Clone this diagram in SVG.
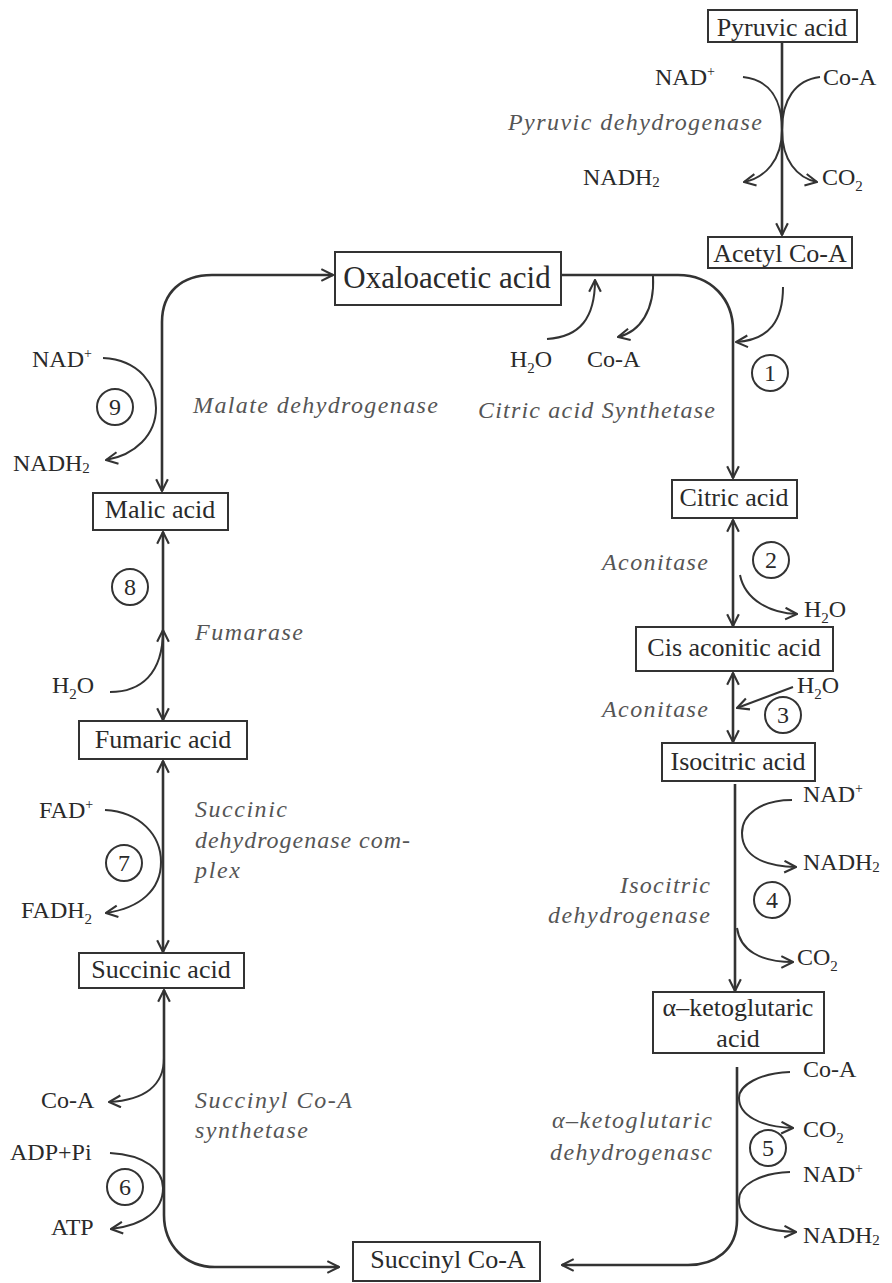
<svg xmlns="http://www.w3.org/2000/svg" width="892" height="1283" viewBox="0 0 892 1283">
<defs>
<marker id="arr" markerUnits="userSpaceOnUse" markerWidth="14" markerHeight="14" viewBox="0 0 12 12" refX="11" refY="6" orient="auto-start-reverse">
<path d="M1,1 L11,6 L1,11" fill="none" stroke="#333" stroke-width="1.8"/>
</marker>
</defs>
<style>
.box{fill:#fff;stroke:#333;stroke-width:2}
.bt{font-family:"Liberation Serif","Times New Roman",serif;font-size:26px;fill:#2a2a2a;text-anchor:middle}
.t{font-family:"Liberation Serif","Times New Roman",serif;font-size:24px;fill:#2a2a2a}
.it{font-family:"Liberation Serif","Times New Roman",serif;font-size:24px;font-style:italic;fill:#555}
.num{font-family:"Liberation Serif","Times New Roman",serif;font-size:24px;fill:#2a2a2a;text-anchor:middle}
.c{fill:none;stroke:#333;stroke-width:2}
.main{fill:none;stroke:#333;stroke-width:2.6}
.sub{font-size:15px}
.sup{font-size:14px}
</style>
<rect width="892" height="1283" fill="#fff"/>

<g id="connectors">
<path class="main" d="M782,42 V235" stroke-width="3" marker-end="url(#arr)"/>
<path class="c" d="M743,77 C770,80 782,100 782,130 C782,160 765,178 744,182" marker-end="url(#arr)"/>
<path class="c" d="M820,77 C795,80 782,100 782,130 C782,160 797,178 817,182" marker-end="url(#arr)"/>
<path class="main" d="M561,275 H678 C712,275 733,300 733,330 V478" marker-end="url(#arr)"/>
<path class="c" d="M547,339 C580,337 595,318 595,280" marker-end="url(#arr)"/>
<path class="c" d="M653,276 C655,310 640,332 618,337" marker-end="url(#arr)"/>
<path class="c" d="M783,287 C783,320 770,340 736,342" marker-end="url(#arr)"/>
<path class="main" d="M162,491 V322 C162,292 182,275 212,275 H333" marker-start="url(#arr)" marker-end="url(#arr)"/>
<path class="c" d="M103,358 C140,360 156,385 156,408 C156,435 135,455 106,460" marker-end="url(#arr)"/>
<path class="main" d="M163,532 V720" marker-start="url(#arr)" marker-end="url(#arr)"/>
<path class="c" d="M110,692 C140,692 163,675 163,630" marker-end="url(#arr)"/>
<path class="main" d="M163,761 V952" marker-start="url(#arr)" marker-end="url(#arr)"/>
<path class="c" d="M105,810 C140,812 161,835 161,862 C161,890 140,908 106,913" marker-end="url(#arr)"/>
<path class="main" d="M164,990 V1215 C164,1245 185,1267 215,1267 H339" marker-start="url(#arr)" marker-end="url(#arr)"/>
<path class="c" d="M164,1058 C164,1085 145,1100 109,1102" marker-end="url(#arr)"/>
<path class="c" d="M110,1153 C145,1155 163,1170 163,1188 C163,1210 145,1225 111,1229" marker-end="url(#arr)"/>
<path class="main" d="M733,520 V626" marker-start="url(#arr)" marker-end="url(#arr)"/>
<path class="c" d="M740,575 C745,600 770,613 797,614" marker-end="url(#arr)"/>
<path class="main" d="M733,673 V742" marker-start="url(#arr)" marker-end="url(#arr)"/>
<path class="c" d="M793,687 L737,708" marker-end="url(#arr)"/>
<path class="main" d="M735,784 V991" stroke-width="3" marker-end="url(#arr)"/>
<path class="c" d="M792,800 C760,800 742,815 742,833 C742,855 762,866 796,867" marker-end="url(#arr)"/>
<path class="c" d="M737,928 C740,950 760,962 793,962" marker-end="url(#arr)"/>
<path class="main" d="M737,1067 V1220 C737,1250 715,1265 688,1265 H562" stroke-width="3" marker-end="url(#arr)"/>
<path class="c" d="M790,1072 C760,1073 739,1085 739,1098 C739,1115 760,1127 793,1128" marker-end="url(#arr)"/>
<path class="c" d="M790,1172 C760,1173 739,1185 739,1200 C739,1220 760,1231 796,1232" marker-end="url(#arr)"/>
</g>

<g id="pyruvic"><rect class="box" x="708" y="10" width="149" height="32"/><text class="bt" x="782" y="36">Pyruvic acid</text></g>
<g id="acetyl"><rect class="box" x="708" y="237" width="144" height="31"/><text class="bt" x="780" y="262">Acetyl Co-A</text></g>
<g id="oxaloacetic"><rect class="box" x="335" y="252" width="226" height="53"/><text class="bt" x="447" y="288" style="font-size:31px">Oxaloacetic acid</text></g>
<g id="citric"><rect class="box" x="672" y="480" width="125" height="38"/><text class="bt" x="734" y="506">Citric acid</text></g>
<g id="cisaconitic"><rect class="box" x="636" y="627" width="197" height="44"/><text class="bt" x="734" y="656">Cis aconitic acid</text></g>
<g id="isocitric"><rect class="box" x="662" y="743" width="153" height="38"/><text class="bt" x="738" y="770">Isocitric acid</text></g>
<g id="ketoglutaric"><rect class="box" x="653" y="992" width="171" height="61"/><text class="bt" x="738" y="1016">α–ketoglutaric</text><text class="bt" x="738" y="1047">acid</text></g>
<g id="succinylcoa"><rect class="box" x="353" y="1242" width="187" height="39"/><text class="bt" x="448" y="1268">Succinyl Co-A</text></g>
<g id="succinic"><rect class="box" x="79" y="953" width="165" height="35"/><text class="bt" x="161" y="978">Succinic acid</text></g>
<g id="fumaric"><rect class="box" x="79" y="721" width="168" height="38"/><text class="bt" x="163" y="748">Fumaric acid</text></g>
<g id="malic"><rect class="box" x="93" y="493" width="135" height="37"/><text class="bt" x="160" y="518">Malic acid</text></g>

<g id="labels">
<text class="t" x="655" y="85">NAD<tspan class="sup" dy="-9">+</tspan></text>
<text class="t" x="823" y="85">Co-A</text>
<text class="it" x="508" y="130" textLength="254" lengthAdjust="spacing">Pyruvic dehydrogenase</text>
<text class="t" x="583" y="185">NADH<tspan class="sub" dy="2">2</tspan></text>
<text class="t" x="822" y="185">CO<tspan class="sub" dy="6">2</tspan></text>

<text class="t" x="510" y="367">H<tspan class="sub" dy="6">2</tspan><tspan dy="-6">O</tspan></text>
<text class="t" x="587" y="367">Co-A</text>
<text class="it" x="478" y="418" textLength="237" lengthAdjust="spacing">Citric acid Synthetase</text>

<text class="t" x="32" y="367">NAD<tspan class="sup" dy="-9">+</tspan></text>
<text class="t" x="13" y="471">NADH<tspan class="sub" dy="2">2</tspan></text>
<text class="it" x="193" y="413" textLength="245" lengthAdjust="spacing">Malate dehydrogenase</text>

<text class="t" x="52" y="693">H<tspan class="sub" dy="6">2</tspan><tspan dy="-6">O</tspan></text>
<text class="it" x="195" y="640" textLength="108" lengthAdjust="spacing">Fumarase</text>

<text class="t" x="39" y="818">FAD<tspan class="sup" dy="-9">+</tspan></text>
<text class="t" x="21" y="918">FADH<tspan class="sub" dy="6">2</tspan></text>
<text class="it" x="195" y="817" textLength="92" lengthAdjust="spacing">Succinic</text>
<text class="it" x="195" y="848" textLength="215" lengthAdjust="spacing">dehydrogenase com-</text>
<text class="it" x="195" y="878" textLength="45" lengthAdjust="spacing">plex</text>

<text class="t" x="41" y="1108">Co-A</text>
<text class="t" x="10" y="1160">ADP+Pi</text>
<text class="t" x="51" y="1235">ATP</text>
<text class="it" x="195" y="1108" textLength="157" lengthAdjust="spacing">Succinyl Co-A</text>
<text class="it" x="195" y="1138" textLength="113" lengthAdjust="spacing">synthetase</text>

<text class="it" x="602" y="570" textLength="106" lengthAdjust="spacing">Aconitase</text>
<text class="t" x="804" y="617">H<tspan class="sub" dy="6">2</tspan><tspan dy="-6">O</tspan></text>
<text class="it" x="602" y="717" textLength="106" lengthAdjust="spacing">Aconitase</text>
<text class="t" x="797" y="693">H<tspan class="sub" dy="6">2</tspan><tspan dy="-6">O</tspan></text>

<text class="t" x="803" y="802">NAD<tspan class="sup" dy="-9">+</tspan></text>
<text class="t" x="803" y="870">NADH<tspan class="sub" dy="2">2</tspan></text>
<text class="it" x="620" y="893" textLength="90" lengthAdjust="spacing">Isocitric</text>
<text class="it" x="548" y="923" textLength="162" lengthAdjust="spacing">dehydrogenase</text>
<text class="t" x="797" y="965">CO<tspan class="sub" dy="6">2</tspan></text>

<text class="t" x="803" y="1077">Co-A</text>
<text class="t" x="803" y="1137">CO<tspan class="sub" dy="6">2</tspan></text>
<text class="t" x="803" y="1182">NAD<tspan class="sup" dy="-9">+</tspan></text>
<text class="t" x="803" y="1243">NADH<tspan class="sub" dy="2">2</tspan></text>
<text class="it" x="552" y="1128" textLength="160" lengthAdjust="spacing">α–ketoglutaric</text>
<text class="it" x="550" y="1160" textLength="162" lengthAdjust="spacing">dehydrogenasc</text>
</g>

<g id="steps">
<g id="step1"><circle class="c" cx="770" cy="373" r="18"/><text class="num" x="770" y="381">1</text></g>
<g id="step2"><circle class="c" cx="771" cy="560" r="18"/><text class="num" x="771" y="568">2</text></g>
<g id="step3"><circle class="c" cx="783" cy="715" r="18"/><text class="num" x="783" y="723">3</text></g>
<g id="step4"><circle class="c" cx="772" cy="900" r="18"/><text class="num" x="772" y="908">4</text></g>
<g id="step5"><circle class="c" cx="768" cy="1148" r="18"/><text class="num" x="768" y="1156">5</text></g>
<g id="step6"><circle class="c" cx="125" cy="1187" r="18"/><text class="num" x="125" y="1195">6</text></g>
<g id="step7"><circle class="c" cx="124" cy="863" r="18"/><text class="num" x="124" y="871">7</text></g>
<g id="step8"><circle class="c" cx="130" cy="587" r="18"/><text class="num" x="130" y="595">8</text></g>
<g id="step9"><circle class="c" cx="115" cy="407" r="18"/><text class="num" x="115" y="415">9</text></g>
</g>
</svg>
